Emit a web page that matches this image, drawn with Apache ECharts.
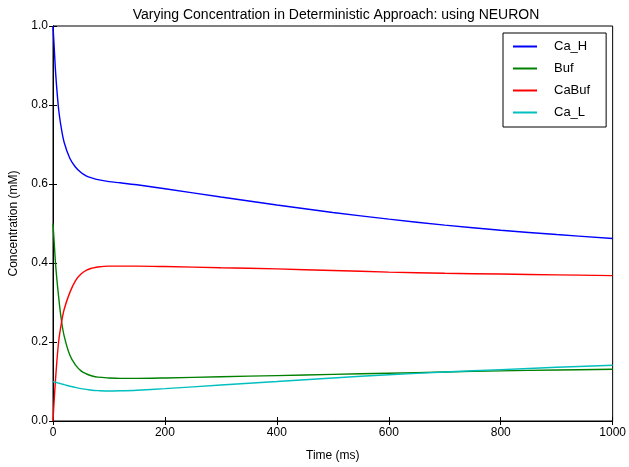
<!DOCTYPE html>
<html>
<head>
<meta charset="utf-8">
<script src="https://cdn.jsdelivr.net/npm/echarts@6/dist/echarts.min.js"></script>
<style>
html,body{margin:0;padding:0;background:#fff;}
#chart{width:629px;height:467px;}
</style>
</head>
<body>
<div id="chart"></div>
<script>
const times = [0,2,5,10,15,20,30,40,50,60,70,80,100,120,150,200,300,400,500,600,700,800,900,1000];
const caH   = [1.0,0.95,0.875,0.79,0.74,0.705,0.665,0.643,0.629,0.62,0.615,0.611,0.606,0.603,0.598,0.588,0.567,0.547,0.528,0.511,0.496,0.483,0.472,0.462];
const buf   = [0.5,0.455,0.39,0.315,0.255,0.215,0.167,0.142,0.127,0.119,0.114,0.111,0.109,0.108,0.108,0.109,0.112,0.115,0.118,0.121,0.124,0.127,0.129,0.131];
const caBuf = [0.0,0.05,0.115,0.2,0.248,0.283,0.325,0.355,0.372,0.382,0.387,0.39,0.392,0.392,0.392,0.391,0.388,0.385,0.381,0.377,0.374,0.372,0.37,0.368];
const caL   = [0.1,0.099,0.098,0.096,0.094,0.092,0.088,0.085,0.082,0.08,0.078,0.077,0.076,0.0765,0.078,0.082,0.091,0.1,0.109,0.117,0.124,0.13,0.136,0.141];
const seriesNames = ['Ca_H','Buf','CaBuf','Ca_L'];
const seriesColors = ['#0000ff','#008000','#ff0000','#00bfbf'];
const seriesValues = [caH, buf, caBuf, caL];
const xTicks = [0,200,400,600,800,1000];
const yTicks = [0.0,0.2,0.4,0.6,0.8,1.0];

const font = 'Liberation Sans, Arial, Helvetica, sans-serif';
const chart = echarts.init(document.getElementById('chart'), null, {renderer:'canvas'});

const axisCommon = {
  axisLine:{show:true,lineStyle:{color:'#000',width:1}},
  axisTick:{show:true,inside:true,length:4,lineStyle:{color:'#000',width:1}},
  splitLine:{show:false}
};

chart.setOption({
  animation:false,
  backgroundColor:'#fff',
  title:{
    text:'Varying Concentration in Deterministic Approach: using NEURON',
    left:331, textAlign:'center', top:3,
    textStyle:{fontFamily:font,fontSize:14,fontWeight:'normal',color:'#000'}
  },
  grid:{left:49,right:16,top:26,bottom:41,show:true,borderColor:'#000',borderWidth:1},
  legend:{
    orient:'vertical',
    left:503, top:33,
    data:seriesNames,
    icon:'rect',
    itemWidth:24, itemHeight:2,
    itemGap:7,
    padding:[6,16,7,10],
    borderColor:'#000', borderWidth:1,
    backgroundColor:'#fff',
    textStyle:{fontFamily:font,fontSize:13,color:'#000',padding:[0,0,0,12],lineHeight:15}
  },
  xAxis:[
    Object.assign({
      type:'value', min:0, max:1000, interval:200, position:'bottom',
      name:'Time (ms)', nameLocation:'middle', nameGap:29,
      nameTextStyle:{fontFamily:font,fontSize:12,color:'#000'},
      axisLabel:{fontFamily:font,fontSize:12,color:'#000',margin:6,
        formatter:v=>xTicks.includes(v)?String(v):''}
    }, axisCommon),
    Object.assign({
      type:'value', min:0, max:1000, interval:200, position:'top',
      axisLabel:{show:false}
    }, axisCommon)
  ],
  yAxis:[
    Object.assign({
      type:'value', min:0, max:1, interval:0.2, position:'left',
      name:'Concentration (mM)', nameLocation:'middle', nameGap:33,
      nameTextStyle:{fontFamily:font,fontSize:12,color:'#000'},
      axisLabel:{fontFamily:font,fontSize:12,color:'#000',margin:5,
        formatter:v=>v.toFixed(1)}
    }, axisCommon),
    Object.assign({
      type:'value', min:0, max:1, interval:0.2, position:'right',
      axisLabel:{show:false}
    }, axisCommon)
  ],
  series: seriesNames.map((n,i)=>({
    name:n, type:'line', xAxisIndex:0, yAxisIndex:0,
    data: times.map((t,k)=>[t, seriesValues[i][k]]),
    showSymbol:false, symbol:'none',
    smooth:0.35,
    color:seriesColors[i],
    lineStyle:{color:seriesColors[i],width:1.4},
    z:2+i
  }))
});
</script>
</body>
</html>
